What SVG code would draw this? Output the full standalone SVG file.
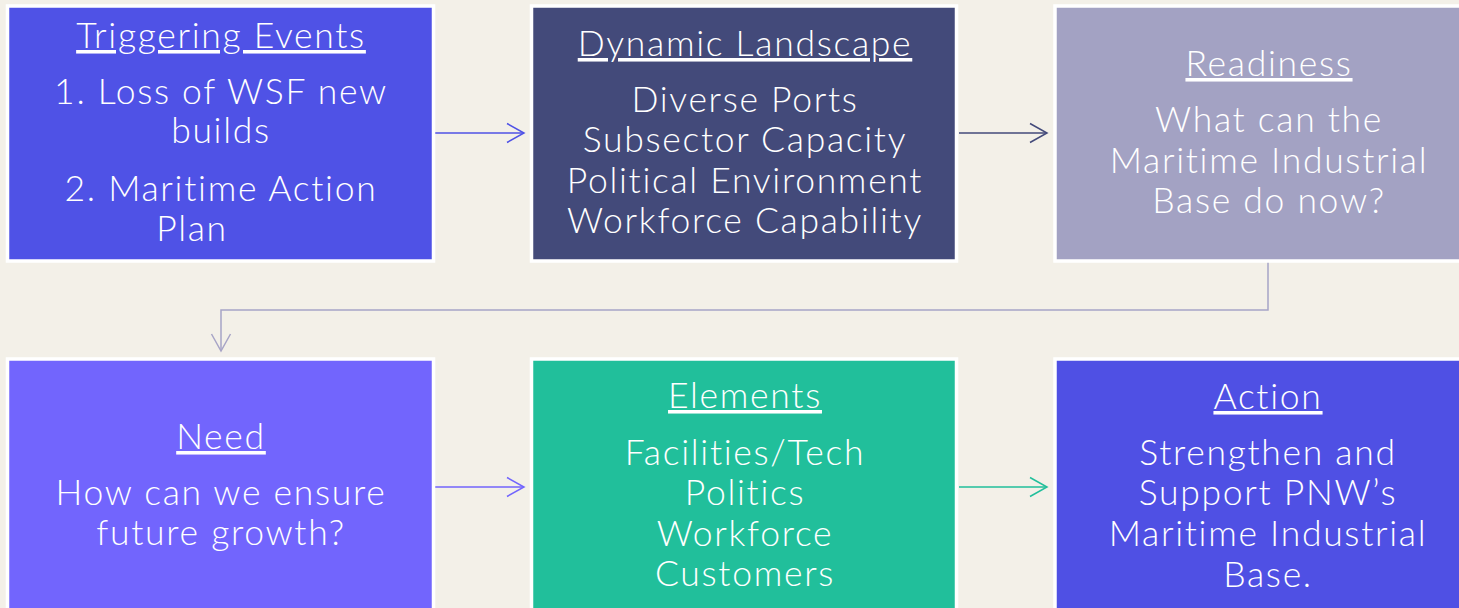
<svg xmlns="http://www.w3.org/2000/svg" width="1459" height="608" viewBox="0 0 1459 608">
<defs>
<style>
.box{stroke:#ffffff;stroke-width:3.5}
.t{font-family:Lato,"Open Sans","Liberation Sans",sans-serif;font-size:35.5px;font-weight:300;letter-spacing:1.7px;font-variant-ligatures:none;fill:#ffffff;text-anchor:middle}
.h{text-decoration:underline}
.c{fill:none;stroke-width:1.5}
</style>
<marker id="m1" markerUnits="userSpaceOnUse" viewBox="-20 -12 22 24" refX="0" refY="0" markerWidth="22" markerHeight="24" orient="auto"><path d="M-17,-9.5 L0,0 L-17,9.5" fill="none" stroke="#4f52e6" stroke-width="1.5"/></marker>
<marker id="m2" markerUnits="userSpaceOnUse" viewBox="-20 -12 22 24" refX="0" refY="0" markerWidth="22" markerHeight="24" orient="auto"><path d="M-17,-9.5 L0,0 L-17,9.5" fill="none" stroke="#434a7a" stroke-width="1.5"/></marker>
<marker id="m3" markerUnits="userSpaceOnUse" viewBox="-20 -12 22 24" refX="0" refY="0" markerWidth="22" markerHeight="24" orient="auto"><path d="M-17,-9.5 L0,0 L-17,9.5" fill="none" stroke="#a7a4c6" stroke-width="1.5"/></marker>
<marker id="m4" markerUnits="userSpaceOnUse" viewBox="-20 -12 22 24" refX="0" refY="0" markerWidth="22" markerHeight="24" orient="auto"><path d="M-17,-9.5 L0,0 L-17,9.5" fill="none" stroke="#7265fd" stroke-width="1.5"/></marker>
<marker id="m5" markerUnits="userSpaceOnUse" viewBox="-20 -12 22 24" refX="0" refY="0" markerWidth="22" markerHeight="24" orient="auto"><path d="M-17,-9.5 L0,0 L-17,9.5" fill="none" stroke="#21bf9b" stroke-width="1.5"/></marker>
</defs>
<rect x="0" y="0" width="1459" height="608" fill="#f3f0e8"/>
<g id="connectors">
<path class="c" d="M435,133 H524" stroke="#4f52e6" marker-end="url(#m1)"/>
<path class="c" d="M959,133 H1047" stroke="#434a7a" marker-end="url(#m2)"/>
<path class="c" d="M1268,262 V310 H221 V351" stroke="#a7a4c6" marker-end="url(#m3)"/>
<path class="c" d="M435,487 H524" stroke="#7265fd" marker-end="url(#m4)"/>
<path class="c" d="M959,487 H1047" stroke="#21bf9b" marker-end="url(#m5)"/>
</g>
<g id="triggering-events">
<rect class="box" x="7.5" y="6" width="426" height="255" fill="#4f52e6"/>
<text class="t h" x="221" y="48">Triggering Events</text>
<text class="t" x="221" y="104">1. Loss of WSF new</text>
<text class="t" x="221" y="143">builds</text>
<text class="t" x="221" y="201">2. Maritime Action</text>
<text class="t" x="192" y="241">Plan</text>
</g>
<g id="dynamic-landscape">
<rect class="box" x="531.5" y="6" width="425" height="255" fill="#434a7a"/>
<text class="t h" x="745" y="56">Dynamic Landscape</text>
<text class="t" x="745" y="112">Diverse Ports</text>
<text class="t" x="745" y="152">Subsector Capacity</text>
<text class="t" x="745" y="193">Political Environment</text>
<text class="t" x="745" y="233">Workforce Capability</text>
</g>
<g id="readiness">
<rect class="box" x="1055" y="6" width="425" height="255" fill="#a3a2c3"/>
<text class="t h" x="1269" y="76">Readiness</text>
<text class="t" x="1269" y="132">What can the</text>
<text class="t" x="1269" y="173">Maritime Industrial</text>
<text class="t" x="1269" y="213">Base do now?</text>
</g>
<g id="need">
<rect class="box" x="7.5" y="359" width="426" height="255" fill="#7265fd"/>
<text class="t h" x="221" y="449">Need</text>
<text class="t" x="221" y="505">How can we ensure</text>
<text class="t" x="221" y="545">future growth?</text>
</g>
<g id="elements">
<rect class="box" x="531.5" y="359" width="425" height="255" fill="#21bf9b"/>
<text class="t h" x="745" y="408">Elements</text>
<text class="t" x="745" y="465">Facilities/Tech</text>
<text class="t" x="745" y="505">Politics</text>
<text class="t" x="745" y="546">Workforce</text>
<text class="t" x="745" y="586">Customers</text>
</g>
<g id="action">
<rect class="box" x="1055" y="359" width="425" height="255" fill="#4f50e4"/>
<text class="t h" x="1268" y="409">Action</text>
<text class="t" x="1268" y="465">Strengthen and</text>
<text class="t" x="1268" y="505">Support PNW’s</text>
<text class="t" x="1268" y="546">Maritime Industrial</text>
<text class="t" x="1268" y="587">Base.</text>
</g>
</svg>
